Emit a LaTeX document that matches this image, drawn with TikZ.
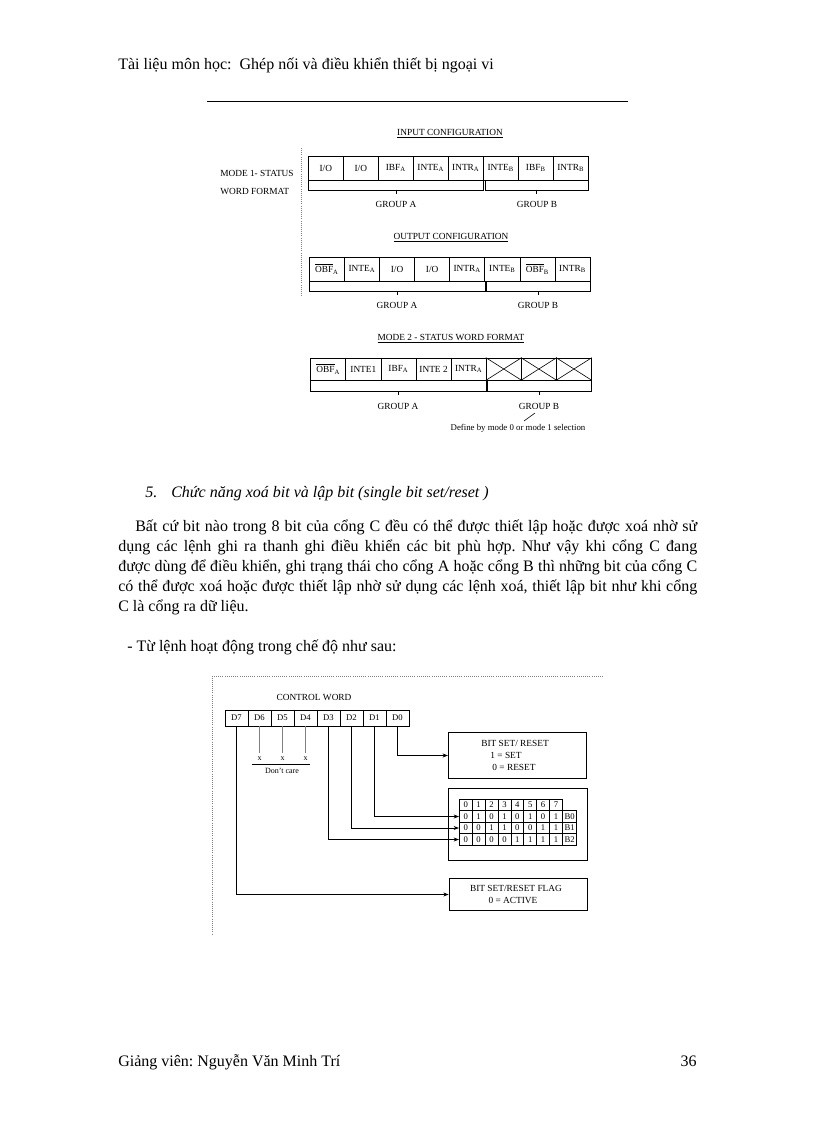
\documentclass[tikz,border=0pt]{standalone}
\usepackage{fontspec}
\setmainfont{Liberation Serif}
\usetikzlibrary{arrows.meta}
\frenchspacing
\newcommand\sbx[1]{\textsubscript{#1}}
\newcommand\ovl[1]{$\overline{\mbox{#1}}$}
\begin{document}
\begin{tikzpicture}[x=0.75pt,y=-0.75pt,
  body/.style={inner sep=0pt,anchor=base west,font=\fontsize{12}{14}\selectfont},
  dg/.style={inner sep=0pt,font=\fontsize{7}{8}\selectfont},
  sm/.style={inner sep=0pt,font=\fontsize{6}{7}\selectfont},
  cellbox/.style={draw,line width=0.5pt,inner sep=0pt,minimum width=26.3pt,minimum height=18pt,font=\fontsize{7}{8}\selectfont},
  cwcell/.style={draw,line width=0.5pt,inner sep=0pt,minimum width=17.25pt,minimum height=12pt,font=\fontsize{6.5}{7}\selectfont},
  tcell/.style={draw,line width=0.5pt,inner sep=0pt,minimum width=9.68pt,minimum height=8.63pt,font=\fontsize{6.5}{7}\selectfont},
  infobox/.style={draw,line width=0.6pt,inner sep=0pt},
  frameline/.style={draw=gray,line width=0.6pt,densely dotted},
  arr/.style={-{Stealth[length=4pt,width=3pt]},line width=0.6pt},
  thinl/.style={line width=0.45pt}
]
\useasboundingbox (0,0) rectangle (816,1123);
\fill[white] (0,0) rectangle (816,1123);

% ---------- header ----------
\node[body] (hdr) at (118,70) {Tài liệu môn học:\ \ Ghép nối và điều khiển thiết bị ngoại vi};
\draw[line width=0.5pt] (207,101) -- (628,101);

% ---------- diagram 1 : mode 1 input ----------
\node[dg] (tin) at (450,134) {\underline{INPUT CONFIGURATION}};
\draw[gray,densely dotted,line width=0.6pt] (301,148) -- (301,297);
\node[dg,anchor=west] (m1a) at (220,173) {MODE 1- STATUS};
\node[dg,anchor=west] (m1b) at (220,191) {WORD FORMAT};
\foreach \t [count=\i] in {{I/O},{I/O},{IBF\sbx{A}},{INTE\sbx{A}},{INTR\sbx{A}},{INTE\sbx{B}},{IBF\sbx{B}},{INTR\sbx{B}}}
  \node[cellbox] (in\i) at ({308.3+35*(\i-0.5)},168) {\t};
\draw[thinl] (308.3,180) rectangle (483.3,190) (484.8,180) rectangle (588.3,190);
\draw[thinl] (395.8,190) -- (395.8,194) (536.5,190) -- (536.5,194);
\node[dg] (ga1) at (396,204) {GROUP A};
\node[dg] (gb1) at (537,204) {GROUP B};

% ---------- mode 1 output ----------
\node[dg] (tout) at (451,238) {\underline{OUTPUT CONFIGURATION}};
\foreach \t [count=\i] in {{\ovl{OBF}\sbx{A}},{INTE\sbx{A}},{I/O},{I/O},{INTR\sbx{A}},{INTE\sbx{B}},{\ovl{OBF}\sbx{B}},{INTR\sbx{B}}}
  \node[cellbox] (out\i) at ({309.3+35.1*(\i-0.5)},269) {\t};
\draw[thinl] (309.3,281) rectangle (484.8,291) (486.3,281) rectangle (590.1,291);
\draw[thinl] (397,291) -- (397,295) (538.2,291) -- (538.2,295);
\node[dg] (ga2) at (397,305) {GROUP A};
\node[dg] (gb2) at (538,305) {GROUP B};

% ---------- mode 2 ----------
\node[dg] (tm2) at (451,339) {\underline{MODE 2 - STATUS WORD FORMAT}};
\foreach \t [count=\i] in {{\ovl{OBF}\sbx{A}},{INTE1},{IBF\sbx{A}},{INTE 2},{INTR\sbx{A}},{},{},{}}
  \node[cellbox,minimum height=16.5pt] (m\i) at ({310.7+35.1*(\i-0.5)},369) {\t};
\foreach \i in {6,7,8}
  \draw[thinl] (m\i.north west) -- (m\i.south east) (m\i.south west) -- (m\i.north east);
\draw[thinl] (310.7,380) rectangle (486.2,391) (487.7,380) rectangle (591.5,391);
\draw[thinl] (398.5,391) -- (398.5,395) (539.6,391) -- (539.6,395);
\node[dg] (ga3) at (398,406) {GROUP A};
\node[dg] (gb3) at (539,406) {GROUP B};
\draw[thinl] (535,413) -- (524,421);
\node[inner sep=0pt,font=\fontsize{6.6}{7}\selectfont] (def) at (518,428) {Define by mode 0 or mode 1 selection};

% ---------- section text ----------
\node[body,font=\fontsize{12}{14}\selectfont\itshape] (s5) at (145,497) {5.};
\node[body,font=\fontsize{12}{14}\selectfont\itshape] (s5t) at (171,497) {Chức năng xoá bit và lập bit (single bit set/reset )};
\node[body] (p1) at (135,531) {\makebox[421.5pt][s]{Bất cứ bit nào trong 8 bit của cổng C đều có thể được thiết lập hoặc được xoá nhờ sử}};
\node[body] (p2) at (118,551) {\makebox[434.25pt][s]{dụng các lệnh ghi ra thanh ghi điều khiển các bit phù hợp. Như vậy khi cổng C đang}};
\node[body] (p3) at (118,571) {\makebox[434.25pt][s]{được dùng để điều khiển, ghi trạng thái cho cổng A hoặc cổng B thì những bit của cổng C}};
\node[body] (p4) at (118,591) {\makebox[434.25pt][s]{có thể được xoá hoặc được thiết lập nhờ sử dụng các lệnh xoá, thiết lập bit như khi cổng}};
\node[body] (p5) at (118,611) {C là cổng ra dữ liệu.};
\node[body] (tu) at (127,651) {- Từ lệnh hoạt động trong chế độ như sau:};

% ---------- diagram 2 ----------
\draw[frameline] (603,676) -- (212,676) -- (212,935);
\node[dg] (cwt) at (314,697) {CONTROL WORD};
\foreach \t/\n [count=\i] in {D7/d7,D6/d6,D5/d5,D4/d4,D3/d3,D2/d2,D1/d1,D0/d0}
  \node[cwcell] (\n) at ({225+23*(\i-0.5)},718) {\t};
\foreach \n in {d6,d5,d4}
  \draw[gray,line width=0.4pt] (\n.south) -- ++(0,27) ++(0,5) node[sm,black] {x};
\draw[thinl] (251.7,764) -- (310,764);
\node[sm] (dc) at (282,771) {Don't care};

\node[infobox,minimum width=103.8pt,minimum height=34.2pt] (bsr) at (517.5,755.5) {};
\node[dg] (bsr1) at (515,743) {BIT SET/ RESET};
\node[dg] (bsr2) at (506,755) {1 = SET};
\node[dg] (bsr3) at (514,767) {0 = RESET};

\node[infobox,minimum width=103.9pt,minimum height=54pt] (tbl) at (517.75,824) {};
\foreach \c in {0,...,7}
  \node[tcell] (h\c) at ({459.3+12.9*(\c+0.5)},805) {\c};
\foreach \v [count=\c from 0] in {0,1,0,1,0,1,0,1}
  \node[tcell] (t0c\c) at ({459.3+12.9*(\c+0.5)},816.5) {\v};
\foreach \v [count=\c from 0] in {0,0,1,1,0,0,1,1}
  \node[tcell] (t1c\c) at ({459.3+12.9*(\c+0.5)},828) {\v};
\foreach \v [count=\c from 0] in {0,0,0,0,1,1,1,1}
  \node[tcell] (t2c\c) at ({459.3+12.9*(\c+0.5)},839.5) {\v};
\node[tcell,minimum width=10.5pt] (lb0) at (569.7,816.5) {B0};
\node[tcell,minimum width=10.5pt] (lb1) at (569.7,828) {B1};
\node[tcell,minimum width=10.5pt] (lb2) at (569.7,839.5) {B2};

\node[infobox,minimum width=103.7pt,minimum height=24.3pt] (flag) at (518.2,894.5) {};
\node[dg] (fl1) at (516,888) {BIT SET/RESET FLAG};
\node[dg] (fl2) at (513,900) {0 = ACTIVE};

\draw[arr] (d0.south) |- (bsr.west);
\draw[arr] (d1.south) |- (t0c0.west);
\draw[arr] (d2.south) |- (t1c0.west);
\draw[arr] (d3.south) |- (t2c0.west);
\draw[arr] (d7.south) |- (flag.west);

% ---------- footer ----------
\node[body] (ft) at (118,1066) {Giảng viên: Nguyễn Văn Minh Trí};
\node[body,anchor=base east] (pg) at (697,1066) {36};
\end{tikzpicture}
\end{document}
